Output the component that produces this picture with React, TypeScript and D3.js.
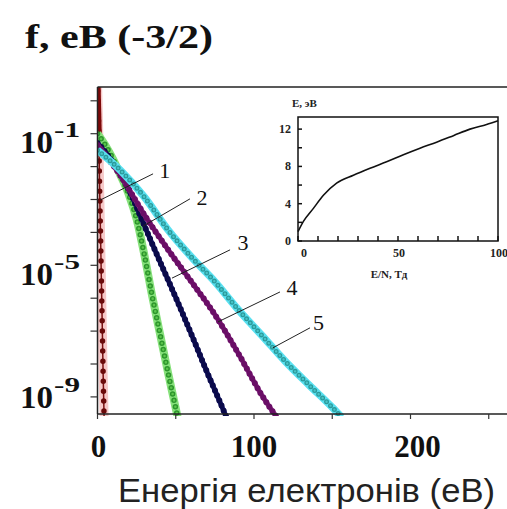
import * as d3 from "d3"

// energy (eV) and log10 f for curves 1..5
const energy1 = [0, 0.8, 1.3, 1.9, 2.5, 3.1, 3.6, 4.2]
const logF1 = [0.6, -1.0, -2.5, -4.0, -5.5, -7.0, -8.3, -9.6]

const energy2 = [0, 5, 10, 15, 20, 25, 30, 35, 40, 45, 50, 52]
const logF2 = [-1.0, -1.35, -1.78, -2.3, -2.85, -3.6, -4.7, -5.95, -7.1, -8.25, -9.35, -9.8]

const energy3 = [0, 10, 20, 30, 40, 50, 60, 70, 80, 84]
const logF3 = [-1.28, -1.88, -2.7, -3.8, -4.9, -5.98, -7.1, -8.25, -9.35, -9.8]

const energy4 = [0, 15, 30, 45, 60, 75, 90, 105, 115]
const logF4 = [-1.34, -2.3, -3.47, -4.52, -5.5, -6.5, -7.68, -8.95, -9.65]

const energy5 = [0, 15, 30, 45, 60, 75, 90, 105, 120, 135, 150, 156]
const logF5 = [-1.5, -2.13, -2.93, -3.92, -4.75, -5.5, -6.35, -7.13, -7.92, -8.63, -9.32, -9.62]

// curve labels: leader start on curve, leader end, label anchor (eV, log10 f)
const curveNames = ["1", "2", "3", "4", "5"]
const leaderFrom = [[1.6, -3.02], [29.1, -3.81], [47.6, -5.39], [77, -6.72], [112, -7.51]]
const leaderTo = [[35.5, -2.22], [59.1, -2.98], [84.7, -4.53], [116.6, -5.81], [135.8, -6.9]]
const labelAt = [[39.5, -2.34], [63.3, -3.17], [89.5, -4.54], [120.8, -5.9], [137.7, -6.97]]

const xTicks = [0, 50, 100, 150, 200, 250]
const xTickLabels = [0, 100, 200]
const yTickPowers = [0, -1, -2, -3, -4, -5, -6, -7, -8, -9]
const yTickLabelPowers = [-1, -5, -9]

// inset: mean energy vs E/N
const insetEN = [0, 2.7, 7.7, 12.7, 19.3, 27.7, 36, 44.3, 52.7, 61, 69.3, 77.7, 86, 94.3, 100]
const insetE = [1.0, 2.1, 3.5, 4.9, 6.2, 7.05, 7.8, 8.5, 9.25, 9.95, 10.6, 11.3, 12.0, 12.5, 12.9]
const insetYTicks = [0, 4, 8, 12]
const insetXTickLabels = [0, 50, 100]

const W = 507
const H = 509
const left = 97.5
const top = 87
const bottom = 414

const serif = "Liberation Serif"
const sans = "Liberation Sans"

type Style = {
  halo?: string
  haloW?: number
  dot: string
  dotW: number
  core?: string
  coreW?: number
  gap: number
}

export default function App() {
  const x = d3.scaleLinear().domain([0, 200]).range([left, 410.5])
  const y = d3.scaleLog().domain([1e-9, 1]).range([396.9, 100.8])

  const line = d3
    .line<[number, number]>()
    .x((d) => x(d[0]))
    .y((d) => y(Math.pow(10, d[1])))
    .curve(d3.curveMonotoneX)

  const zip = (e: number[], l: number[]) => e.map((v, i) => [v, l[i]] as [number, number])

  const curves: { pts: [number, number][]; s: Style }[] = [
    {
      pts: zip(energy2, logF2),
      s: { halo: "#86e07a", haloW: 8, dot: "#2c962c", dotW: 5.5, core: "#5cc44c", coreW: 2.6, gap: 6.5 },
    },
    {
      pts: zip(energy3, logF3),
      s: { halo: "#1a1a70", haloW: 5, dot: "#0a0a4a", dotW: 6, gap: 5.5 },
    },
    {
      pts: zip(energy4, logF4),
      s: { halo: "#8a2a86", haloW: 5, dot: "#6a0e66", dotW: 6, gap: 5.5 },
    },
    {
      pts: zip(energy5, logF5),
      s: { halo: "#5ae0f0", haloW: 7.5, dot: "#2a9a9c", dotW: 5, core: "#48c4c6", coreW: 2.4, gap: 5.5 },
    },
  ]

  const maroon = zip(energy1, logF1)
  const maroonTop = maroon.filter((d) => d[1] > -2)

  const xi = d3.scaleLinear().domain([0, 100]).range([298, 498])
  const yi = d3.scaleLinear().domain([0, 13.3]).range([241, 117])
  const insetLine = d3
    .line<[number, number]>()
    .x((d) => xi(d[0]))
    .y((d) => yi(d[1]))
    .curve(d3.curveMonotoneX)

  const yLabelDy: Record<number, number> = { [-1]: 19, [-5]: 20, [-9]: 11 }

  return (
    <svg
      width={W}
      height={H}
      style={{ position: "absolute", left: 0, top: 0, background: "#fff" }}
    >
      <defs>
        <clipPath id="plot">
          <rect x={left} y={top} width={W - left} height={bottom - top + 2} />
        </clipPath>
      </defs>

      {/* title */}
      <text
        x={25}
        y={48}
        fontFamily={serif}
        fontWeight="bold"
        fontSize={34}
        textLength={188}
        lengthAdjust="spacingAndGlyphs"
        fill="#111"
      >
        f, eB (-3/2)
      </text>

      {/* curves */}
      <g clipPath="url(#plot)">
        <path d={line(maroon) || ""} fill="none" stroke="#f6c8c8" strokeWidth={9} />
        <path d={line(maroon) || ""} fill="none" stroke="#7a1010" strokeWidth={1.5} />
        <path
          d={line(maroon) || ""}
          fill="none"
          stroke="#6a0a0a"
          strokeWidth={5.5}
          strokeLinecap="round"
          strokeDasharray="0 10"
        />
        <path d={line(maroonTop) || ""} fill="none" stroke="#7d0808" strokeWidth={6} />

        {curves.map((c, i) => (
          <g key={i}>
            {c.s.halo && (
              <path d={line(c.pts) || ""} fill="none" stroke={c.s.halo} strokeWidth={c.s.haloW} />
            )}
            <path
              d={line(c.pts) || ""}
              fill="none"
              stroke={c.s.dot}
              strokeWidth={c.s.dotW}
              strokeLinecap="round"
              strokeDasharray={`0 ${c.s.gap}`}
            />
            {c.s.core && (
              <path
                d={line(c.pts) || ""}
                fill="none"
                stroke={c.s.core}
                strokeWidth={c.s.coreW}
                strokeLinecap="round"
                strokeDasharray={`0 ${c.s.gap}`}
              />
            )}
          </g>
        ))}
      </g>

      {/* frame */}
      <line x1={left} x2={W} y1={top} y2={top} stroke="#222" strokeWidth={1.5} />
      <line x1={left} x2={left} y1={top} y2={bottom} stroke="#222" strokeWidth={1.5} />
      <line x1={left} x2={W} y1={bottom} y2={bottom} stroke="#222" strokeWidth={1.5} />

      {yTickPowers.map((p) => (
        <line
          key={p}
          x1={left - 7}
          x2={left}
          y1={y(Math.pow(10, p))}
          y2={y(Math.pow(10, p))}
          stroke="#333"
          strokeWidth={1.2}
        />
      ))}
      {yTickLabelPowers.map((p) => {
        const by = y(Math.pow(10, p)) + yLabelDy[p]
        return (
          <g key={p} fontFamily={serif} fontWeight="bold" fill="#111">
            <text x={20} y={by} fontSize={31} textLength={33} lengthAdjust="spacingAndGlyphs">
              10
            </text>
            <text x={54} y={by - 16} fontSize={20} textLength={26} lengthAdjust="spacingAndGlyphs">
              {`-${Math.abs(p)}`}
            </text>
          </g>
        )
      })}

      {xTicks.map((t) => (
        <line key={t} x1={x(t)} x2={x(t)} y1={bottom} y2={bottom + 5} stroke="#333" strokeWidth={1.2} />
      ))}
      {xTickLabels.map((t) => (
        <text
          key={t}
          x={x(t) + (t === 200 ? 7 : t === 0 ? 1 : 0)}
          y={457}
          textAnchor="middle"
          fontFamily={serif}
          fontWeight="bold"
          fontSize={31}
          fill="#111"
        >
          {t}
        </text>
      ))}

      <text
        x={118}
        y={502}
        fontFamily={sans}
        fontSize={34}
        textLength={377}
        lengthAdjust="spacingAndGlyphs"
        fill="#222"
      >
        Енергія електронів (еВ)
      </text>

      {/* curve labels */}
      {curveNames.map((n, i) => (
        <g key={n}>
          <line
            x1={x(leaderFrom[i][0])}
            y1={y(Math.pow(10, leaderFrom[i][1]))}
            x2={x(leaderTo[i][0])}
            y2={y(Math.pow(10, leaderTo[i][1]))}
            stroke="#222"
            strokeWidth={1}
          />
          <text
            x={x(labelAt[i][0])}
            y={y(Math.pow(10, labelAt[i][1]))}
            fontFamily={serif}
            fontSize={22}
            fill="#111"
          >
            {n}
          </text>
        </g>
      ))}

      {/* inset */}
      <g>
        <rect x={298} y={117} width={200} height={124} fill="none" stroke="#111" strokeWidth={1.5} />
        {d3.range(0, 13, 2).map((t) => (
          <line key={t} x1={xi(0)} x2={xi(0) + 4} y1={yi(t)} y2={yi(t)} stroke="#111" strokeWidth={1.5} />
        ))}
        {d3.range(0, 101, 10).map((t) => (
          <line key={t} x1={xi(t)} x2={xi(t)} y1={yi(0)} y2={yi(0) - 5} stroke="#111" strokeWidth={1.5} />
        ))}
        {insetYTicks.map((t) => (
          <text
            key={t}
            x={291}
            y={yi(t) + 4}
            textAnchor="end"
            fontFamily={serif}
            fontWeight="bold"
            fontSize={12}
            fill="#222"
          >
            {t}
          </text>
        ))}
        {insetXTickLabels.map((t) => (
          <text
            key={t}
            x={xi(t) + (t === 0 ? 6 : 1)}
            y={257}
            textAnchor="middle"
            fontFamily={serif}
            fontWeight="bold"
            fontSize={12}
            fill="#222"
          >
            {t}
          </text>
        ))}
        <text x={292} y={107} fontFamily={serif} fontWeight="bold" fontSize={11} fill="#222">
          E, эB
        </text>
        <text x={389} y={278} textAnchor="middle" fontFamily={serif} fontWeight="bold" fontSize={11} fill="#222">
          E/N, Тд
        </text>
        <path
          d={insetLine(zip(insetEN, insetE)) || ""}
          fill="none"
          stroke="#111"
          strokeWidth={1.6}
        />
      </g>
    </svg>
  )
}
